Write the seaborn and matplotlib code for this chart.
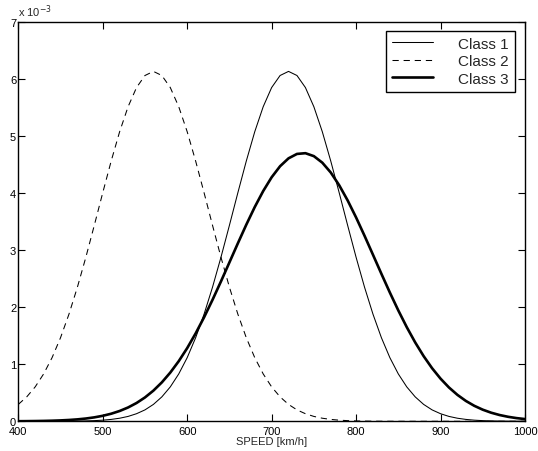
import numpy as np
import pandas as pd
import matplotlib
matplotlib.use("Agg")
import matplotlib.pyplot as plt
import seaborn as sns

# speed grid (km/h) and the three class densities (units of 1e-3)
speed = list(range(400, 1001, 10))

class1 = [0.0000, 0.0001, 0.0002, 0.0003, 0.0006, 0.0011, 0.0021, 0.0038, 0.0067, 0.0117,
          0.0199, 0.0332, 0.0539, 0.0855, 0.133, 0.200, 0.296, 0.428, 0.603, 0.830,
          1.115, 1.464, 1.877, 2.350, 2.874, 3.433, 4.004, 4.560, 5.073, 5.511,
          5.847, 6.058, 6.130, 6.058, 5.847, 5.511, 5.073, 4.560, 4.004, 3.433,
          2.874, 2.350, 1.877, 1.464, 1.115, 0.830, 0.603, 0.428, 0.296, 0.200,
          0.133, 0.0855, 0.0539, 0.0332, 0.0199, 0.0117, 0.0067, 0.0038, 0.0021, 0.0011,
          0.0006]

class2 = [0.296, 0.428, 0.603, 0.830, 1.115, 1.464, 1.877, 2.350, 2.874, 3.433,
          4.004, 4.560, 5.073, 5.511, 5.847, 6.058, 6.130, 6.058, 5.847, 5.511,
          5.073, 4.560, 4.004, 3.433, 2.874, 2.350, 1.877, 1.464, 1.115, 0.830,
          0.603, 0.428, 0.296, 0.200, 0.133, 0.0855, 0.0539, 0.0332, 0.0199, 0.0117,
          0.0067, 0.0038, 0.0021, 0.0011, 0.0006, 0.0003, 0.0001, 0.0001, 0.0, 0.0,
          0.0, 0.0, 0.0, 0.0, 0.0, 0.0, 0.0, 0.0, 0.0, 0.0,
          0.0]

class3 = [0.0018, 0.0029, 0.0045, 0.0069, 0.0105, 0.0157, 0.0232, 0.0338, 0.0486, 0.0690,
          0.0964, 0.1329, 0.1806, 0.2422, 0.3204, 0.4179, 0.5376, 0.6822, 0.8538, 1.0536,
          1.2823, 1.5394, 1.8225, 2.1281, 2.4508, 2.7836, 3.1180, 3.4449, 3.7537, 4.0337,
          4.2752, 4.4688, 4.6069, 4.6841, 4.6971, 4.6453, 4.5310, 4.3588, 4.1355, 3.8697,
          3.5712, 3.2503, 2.9177, 2.5832, 2.2554, 1.9423, 1.6497, 1.3818, 1.1415, 0.9301,
          0.7475, 0.5924, 0.4630, 0.3569, 0.2713, 0.2035, 0.1505, 0.1098, 0.0790, 0.0560,
          0.0392]

x_ticks = [400, 500, 600, 700, 800, 900, 1000]
y_ticks = [0, 1, 2, 3, 4, 5, 6, 7]

sns.set_style("ticks")
plt.rcParams["font.family"] = ["Liberation Sans", "DejaVu Sans"]
plt.rcParams["lines.scale_dashes"] = False

fig = plt.figure(figsize=(5.38, 4.52), dpi=100)
ax = fig.add_axes([0.034, 0.0657, 0.9418, 0.884])

sns.lineplot(x=speed, y=class1, ax=ax, color="black", linewidth=0.75, label="Class 1")
sns.lineplot(x=speed, y=class2, ax=ax, color="black", linewidth=0.75, label="Class 2",
             linestyle=(0, (4.5, 3.5)))
sns.lineplot(x=speed, y=class3, ax=ax, color="black", linewidth=1.9, label="Class 3")

ax.set_xlim(400, 1000)
ax.set_ylim(0, 7)
ax.set_xticks(x_ticks)
ax.set_yticks(y_ticks)
ax.set_xticklabels([str(v) for v in x_ticks])
ax.set_yticklabels([str(v) for v in y_ticks])
ax.tick_params(direction="in", length=5, width=0.8, labelsize=8, pad=3.5,
               top=True, right=True, colors="black")
ax.tick_params(axis="y", pad=1.5)
for s in ax.spines.values():
    s.set_visible(True)
    s.set_linewidth(1.0)
    s.set_color("black")

ax.set_xlabel("SPEED [km/h]", fontsize=8, labelpad=0.0)
ax.set_ylabel("")
ax.text(0.0, 1.008, r"x 10$^{-3}$", transform=ax.transAxes, ha="left", va="bottom", fontsize=8)

leg = ax.legend(loc="upper right", bbox_to_anchor=(0.980, 0.9775), borderaxespad=0,
                fontsize=11, frameon=True, fancybox=False, edgecolor="black",
                handlelength=2.7, handletextpad=1.65, labelspacing=0.22, borderpad=0.4)
leg.get_frame().set_linewidth(1.0)
leg.get_frame().set_alpha(1)

fig.savefig("out.png", dpi=100)
